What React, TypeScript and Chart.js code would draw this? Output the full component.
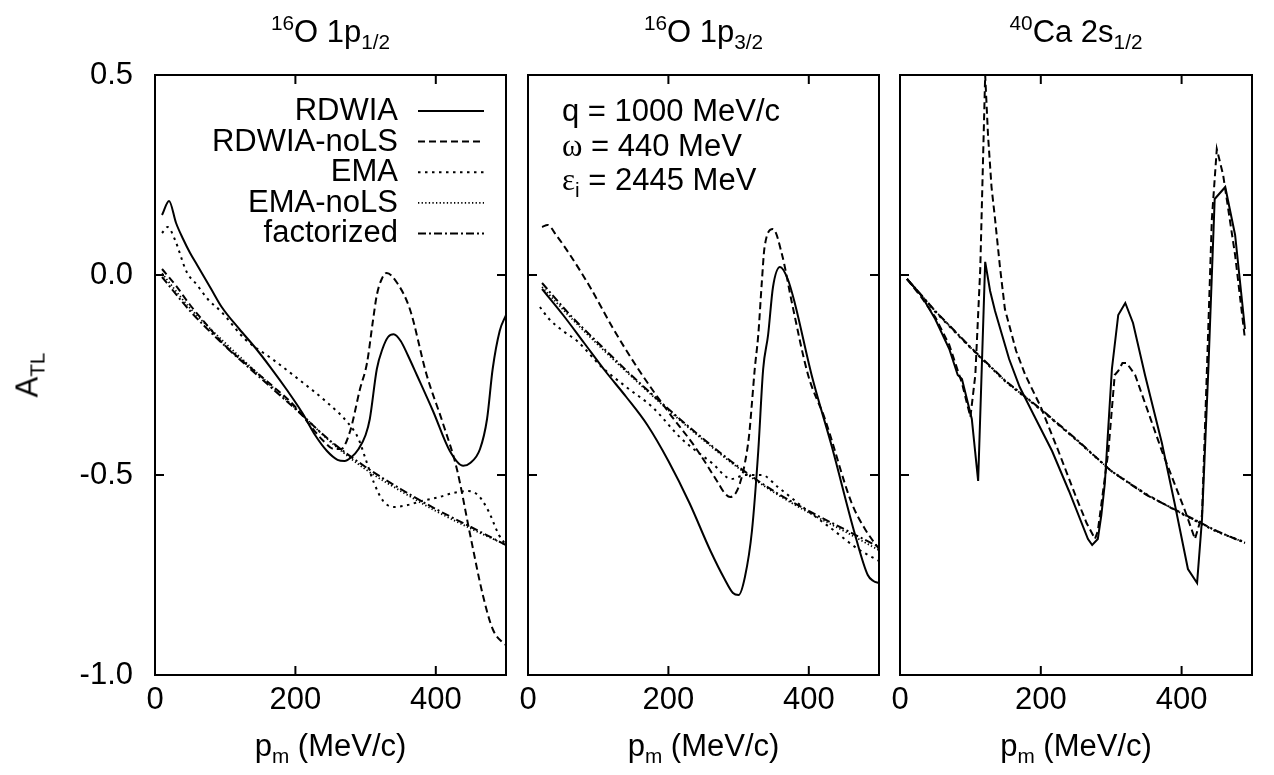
import React, { useEffect, useRef } from 'react';
import { Chart, registerables } from 'chart.js';

Chart.register(...registerables);

// ---------------- data ----------------
const SERIES = ['RDWIA', 'RDWIA-noLS', 'EMA', 'EMA-noLS', 'factorized'];
const X_TICKS = [0, 200, 400];
const Y_TICKS = [-1, -0.5, 0, 0.5];

// Panel 1: 16O 1p1/2
const P1_RDWIA_X = [10, 20, 30, 40, 50, 60, 80, 95, 120, 142, 165, 189, 210, 228, 245, 260, 270, 280, 290, 300, 306, 316, 324, 332, 340, 350, 360, 373, 396, 420, 439, 449, 463, 473, 481, 491, 500];
const P1_RDWIA_Y = [0.15, 0.185, 0.13, 0.09, 0.055, 0.025, -0.035, -0.08, -0.135, -0.18, -0.232, -0.29, -0.345, -0.4, -0.44, -0.462, -0.465, -0.455, -0.435, -0.4, -0.36, -0.235, -0.185, -0.155, -0.148, -0.165, -0.2, -0.25, -0.34, -0.44, -0.477, -0.47, -0.435, -0.36, -0.235, -0.14, -0.1];
const P1_NOLS_X = [10, 30, 50, 75, 95, 120, 157, 199, 225, 240, 255, 265, 278, 292, 302, 310, 316, 323, 330, 345, 363, 387, 410, 430, 449, 467, 481, 496, 500];
const P1_NOLS_Y = [0.015, -0.027, -0.075, -0.127, -0.168, -0.208, -0.262, -0.328, -0.385, -0.415, -0.435, -0.435, -0.39, -0.285, -0.22, -0.12, -0.05, -0.01, 0.005, -0.02, -0.085, -0.25, -0.37, -0.485, -0.65, -0.8, -0.885, -0.92, -0.925];
const P1_EMA_X = [10, 18, 28, 45, 60, 75, 95, 128, 167, 204, 246, 275, 290, 300, 312, 325, 340, 360, 380, 405, 425, 445, 460, 475, 490, 500];
const P1_EMA_Y = [0.105, 0.12, 0.09, 0.008, -0.025, -0.06, -0.093, -0.16, -0.21, -0.26, -0.32, -0.37, -0.41, -0.46, -0.52, -0.565, -0.58, -0.575, -0.565, -0.555, -0.545, -0.54, -0.55, -0.59, -0.65, -0.675];
const P1_EMANOLS_X = [10, 50, 100, 150, 200, 250, 300, 350, 400, 450, 500];
const P1_EMANOLS_Y = [0.004, -0.083, -0.17, -0.252, -0.333, -0.417, -0.486, -0.54, -0.59, -0.634, -0.675];
const P1_FACT_X = [10, 50, 100, 150, 200, 250, 300, 350, 400, 450, 500];
const P1_FACT_Y = [-0.005, -0.09, -0.178, -0.257, -0.335, -0.415, -0.48, -0.535, -0.585, -0.63, -0.675];

// Panel 2: 16O 1p3/2
const P2_RDWIA_X = [20, 50, 80, 110, 140, 170, 200, 230, 260, 280, 292, 300, 309, 319, 328, 335, 342, 349, 359, 370, 380, 404, 433, 466, 484, 492, 500];
const P2_RDWIA_Y = [-0.035, -0.1, -0.17, -0.24, -0.305, -0.375, -0.465, -0.57, -0.69, -0.76, -0.795, -0.8, -0.755, -0.64, -0.44, -0.235, -0.15, -0.03, 0.02, -0.01, -0.07, -0.25, -0.43, -0.65, -0.75, -0.765, -0.77];
const P2_NOLS_X = [20, 28, 40, 60, 90, 120, 157, 199, 238, 271, 280, 288, 296, 302, 309, 315, 319, 323, 328, 333, 337, 349, 362, 376, 399, 423, 461, 480, 500];
const P2_NOLS_Y = [0.12, 0.125, 0.1, 0.05, -0.035, -0.13, -0.235, -0.34, -0.43, -0.52, -0.545, -0.555, -0.545, -0.52, -0.47, -0.4, -0.32, -0.235, -0.15, -0.02, 0.07, 0.115, 0.05, -0.07, -0.25, -0.36, -0.57, -0.635, -0.685];
const P2_EMA_X = [17, 30, 50, 70, 105, 140, 177, 219, 262, 290, 309, 333, 356, 395, 433, 470, 500];
const P2_EMA_Y = [-0.08, -0.11, -0.14, -0.165, -0.23, -0.28, -0.33, -0.41, -0.47, -0.51, -0.5, -0.5, -0.53, -0.585, -0.635, -0.685, -0.715];
const P2_EMANOLS_X = [20, 60, 100, 150, 200, 250, 300, 350, 400, 450, 500];
const P2_EMANOLS_Y = [-0.03, -0.105, -0.175, -0.258, -0.338, -0.413, -0.483, -0.543, -0.594, -0.64, -0.688];
const P2_FACT_X = [20, 60, 100, 150, 200, 250, 300, 350, 400, 450, 500];
const P2_FACT_Y = [-0.02, -0.1, -0.17, -0.255, -0.335, -0.41, -0.48, -0.54, -0.59, -0.635, -0.68];

// Panel 3: 40Ca 2s1/2
const P3_RDWIA_X = [10, 30, 50, 70, 82, 88, 102, 111, 121, 128, 135, 145, 155, 170, 190, 216, 240, 267, 273, 281, 286, 291, 301, 310, 320, 331, 348, 372, 390, 409, 422, 429, 438, 447, 462, 476, 490];
const P3_RDWIA_Y = [-0.01, -0.05, -0.11, -0.185, -0.25, -0.26, -0.36, -0.515, 0.033, -0.04, -0.09, -0.15, -0.21, -0.28, -0.35, -0.44, -0.54, -0.66, -0.675, -0.66, -0.6, -0.52, -0.235, -0.1, -0.07, -0.12, -0.25, -0.42, -0.57, -0.735, -0.77, -0.61, -0.235, 0.19, 0.22, 0.1, -0.135];
const P3_NOLS_X = [10, 30, 50, 70, 88, 95, 100, 107, 114, 121, 125, 130, 135, 142, 149, 165, 178, 200, 225, 249, 265, 277, 281, 290, 296, 305, 310, 316, 322, 334, 344, 372, 405, 419, 429, 436, 443, 450, 459, 476, 490];
const P3_NOLS_Y = [-0.01, -0.055, -0.105, -0.175, -0.27, -0.32, -0.355, -0.25, 0.015, 0.5, 0.35, 0.22, 0.14, 0.02, -0.085, -0.19, -0.25, -0.33, -0.44, -0.55, -0.62, -0.66, -0.64, -0.52, -0.44, -0.25, -0.24, -0.22, -0.22, -0.25, -0.3, -0.44, -0.59, -0.66, -0.6, -0.235, 0.14, 0.315, 0.25, 0.05, -0.16];
const P3_EMA_X = [10, 50, 100, 150, 200, 250, 300, 350, 400, 450, 490];
const P3_EMA_Y = [-0.01, -0.092, -0.182, -0.267, -0.337, -0.412, -0.49, -0.548, -0.597, -0.642, -0.668];
const P3_EMANOLS_X = [10, 50, 100, 150, 200, 250, 300, 350, 400, 450, 490];
const P3_EMANOLS_Y = [-0.01, -0.09, -0.181, -0.266, -0.336, -0.411, -0.49, -0.549, -0.596, -0.641, -0.669];
const P3_FACT_X = [10, 50, 100, 150, 200, 250, 300, 350, 400, 450, 490];
const P3_FACT_Y = [-0.01, -0.09, -0.18, -0.265, -0.335, -0.41, -0.49, -0.55, -0.595, -0.64, -0.67];

// ---------------- layout & styles ----------------
const W = 1274;
const H = 775;
const TOP = 75;
const BOTTOM = 675;
const YW = 155;
const LEFTS = [155, 528, 900];
const RIGHTS = [506, 879, 1252];
const FONT = '"Liberation Sans", Arial, Helvetica, sans-serif';
const SERIF = '"Liberation Serif", "Times New Roman", serif';
const FS = 31;
const DASHES: number[][] = [[], [7, 4], [2.5, 4.5], [1.3, 2.3], [8, 3, 2, 3]];
const WIDTHS = [2, 2, 2, 1.8, 2];
const LEGEND_X0 = 418;
const LEGEND_X1 = 484;
const LEGEND_Y0 = 111;
const LEGEND_DY = 30.6;

const PANELS = [
  { series: [[P1_RDWIA_X, P1_RDWIA_Y], [P1_NOLS_X, P1_NOLS_Y], [P1_EMA_X, P1_EMA_Y], [P1_EMANOLS_X, P1_EMANOLS_Y], [P1_FACT_X, P1_FACT_Y]], smooth: true },
  { series: [[P2_RDWIA_X, P2_RDWIA_Y], [P2_NOLS_X, P2_NOLS_Y], [P2_EMA_X, P2_EMA_Y], [P2_EMANOLS_X, P2_EMANOLS_Y], [P2_FACT_X, P2_FACT_Y]], smooth: true },
  { series: [[P3_RDWIA_X, P3_RDWIA_Y], [P3_NOLS_X, P3_NOLS_Y], [P3_EMA_X, P3_EMA_Y], [P3_EMANOLS_X, P3_EMANOLS_Y], [P3_FACT_X, P3_FACT_Y]], smooth: false },
];

const framePlugin = {
  id: 'frameTicks',
  afterDraw(chart: any) {
    const { ctx, chartArea: a, scales } = chart;
    const L = 9;
    ctx.save();
    ctx.setLineDash([]);
    ctx.strokeStyle = '#000';
    ctx.lineWidth = 2;
    const seg = (x0: number, y0: number, x1: number, y1: number) => {
      ctx.beginPath();
      ctx.moveTo(x0, y0);
      ctx.lineTo(x1, y1);
      ctx.stroke();
    };
    for (const t of scales.x.ticks) {
      const px = scales.x.getPixelForValue(t.value);
      seg(px, a.bottom, px, a.bottom - L);
      seg(px, a.top, px, a.top + L);
    }
    for (const t of scales.y.ticks) {
      const py = scales.y.getPixelForValue(t.value);
      seg(a.left, py, a.left + L, py);
      seg(a.right, py, a.right - L, py);
    }
    ctx.strokeRect(a.left, a.top, a.right - a.left, a.bottom - a.top);
    ctx.restore();
  },
};

const legendLinesPlugin = {
  id: 'legendLines',
  afterDraw(chart: any) {
    const ctx = chart.ctx;
    chart.data.datasets.forEach((ds: any, i: number) => {
      const y = LEGEND_Y0 + LEGEND_DY * i;
      ctx.save();
      ctx.strokeStyle = '#000';
      ctx.lineWidth = ds.borderWidth;
      ctx.setLineDash(ds.borderDash || []);
      ctx.beginPath();
      ctx.moveTo(LEGEND_X0, y);
      ctx.lineTo(LEGEND_X1, y);
      ctx.stroke();
      ctx.restore();
    });
  },
};

function makeChart(canvas: HTMLCanvasElement, k: number) {
  const panel = PANELS[k];
  const datasets = panel.series.map(([xs, ys], i) => ({
    label: SERIES[i],
    data: xs.map((x, j) => ({ x, y: ys[j] })),
    borderColor: '#000',
    backgroundColor: '#000',
    borderWidth: WIDTHS[i],
    borderDash: DASHES[i],
    pointRadius: 0,
    fill: false,
    tension: 0,
    cubicInterpolationMode: panel.smooth ? 'monotone' : 'default',
  }));
  return new Chart(canvas, {
    type: 'line',
    data: { datasets } as any,
    options: {
      animation: false,
      responsive: false,
      events: [],
      layout: { padding: { left: LEFTS[k] - YW, right: W - RIGHTS[k], top: TOP, bottom: 0 } },
      plugins: { legend: { display: false }, tooltip: { enabled: false } },
      scales: {
        x: {
          type: 'linear',
          min: 0,
          max: 500,
          afterBuildTicks: (s: any) => { s.ticks = X_TICKS.map((v) => ({ value: v })); },
          afterFit: (s: any) => { s.height = H - BOTTOM; },
          grid: { display: false, drawTicks: false },
          border: { display: false },
          ticks: { color: '#000', font: { family: FONT, size: FS }, padding: 7, autoSkip: false, maxRotation: 0, callback: (v: any) => String(v) },
        },
        y: {
          type: 'linear',
          min: -1,
          max: 0.5,
          afterBuildTicks: (s: any) => { s.ticks = Y_TICKS.map((v) => ({ value: v })); },
          afterFit: (s: any) => { s.width = YW; },
          grid: { display: false, drawTicks: false },
          border: { display: false },
          ticks: { display: k === 0, color: '#000', font: { family: FONT, size: FS }, padding: 22, callback: (v: any) => Number(v).toFixed(1) },
        },
      },
    } as any,
    plugins: k === 0 ? [framePlugin, legendLinesPlugin] : [framePlugin],
  });
}

const Sub = ({ children }: { children: React.ReactNode }) => (
  <span style={{ fontSize: '0.67em', position: 'relative', top: '0.35em' }}>{children}</span>
);
const Sup = ({ children }: { children: React.ReactNode }) => (
  <span style={{ fontSize: '0.67em', position: 'relative', top: '-0.6em' }}>{children}</span>
);

function Txt({ x, y, align = 'center', rotate = false, children }: { x: number; y: number; align?: string; rotate?: boolean; children: React.ReactNode }) {
  const tx = align === 'left' ? '0' : align === 'right' ? '-100%' : '-50%';
  return (
    <div
      style={{
        position: 'absolute',
        left: x,
        top: y,
        transform: `translate(${tx},-50%)${rotate ? ' rotate(-90deg)' : ''}`,
        whiteSpace: 'nowrap',
        fontFamily: FONT,
        fontSize: FS,
        lineHeight: 1,
        color: '#000',
      }}
    >
      {children}
    </div>
  );
}

export default function App() {
  const r0 = useRef<HTMLCanvasElement>(null);
  const r1 = useRef<HTMLCanvasElement>(null);
  const r2 = useRef<HTMLCanvasElement>(null);

  useEffect(() => {
    const charts = [r0, r1, r2].map((r, k) => makeChart(r.current as HTMLCanvasElement, k));
    return () => charts.forEach((c) => c.destroy());
  }, []);

  const centers = LEFTS.map((l, i) => (l + RIGHTS[i]) / 2);
  const cv: React.CSSProperties = { position: 'absolute', left: 0, top: 0 };

  return (
    <div style={{ position: 'absolute', left: 0, top: 0, width: W, height: H, background: '#fff', overflow: 'hidden' }}>
      <canvas ref={r0} width={W} height={H} style={cv} />
      <canvas ref={r1} width={W} height={H} style={cv} />
      <canvas ref={r2} width={W} height={H} style={cv} />

      <Txt x={centers[0]} y={31}><Sup>16</Sup>O 1p<Sub>1/2</Sub></Txt>
      <Txt x={centers[1]} y={31}><Sup>16</Sup>O 1p<Sub>3/2</Sub></Txt>
      <Txt x={centers[2]} y={31}><Sup>40</Sup>Ca 2s<Sub>1/2</Sub></Txt>

      {centers.map((c, i) => (
        <Txt key={i} x={c} y={745}>p<Sub>m</Sub> (MeV/c)</Txt>
      ))}

      <Txt x={27} y={375} rotate>A<Sub>TL</Sub></Txt>

      {SERIES.map((s, i) => (
        <Txt key={s} x={398} y={LEGEND_Y0 - 2 + LEGEND_DY * i} align="right">{s}</Txt>
      ))}

      <Txt x={562} y={110} align="left">q = 1000 MeV/c</Txt>
      <Txt x={562} y={145} align="left"><span style={{ fontFamily: SERIF }}>ω</span> = 440 MeV</Txt>
      <Txt x={562} y={179} align="left"><span style={{ fontFamily: SERIF }}>ε</span><Sub>i</Sub> = 2445 MeV</Txt>
    </div>
  );
}
